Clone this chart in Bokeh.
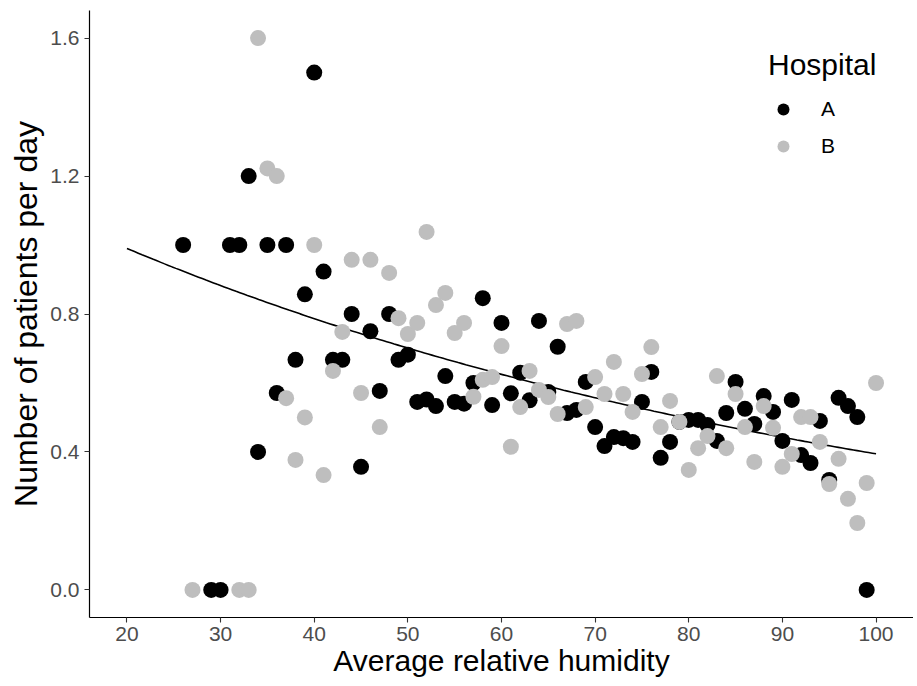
import numpy as np
from bokeh.plotting import figure
from bokeh.models import ColumnDataSource, FixedTicker, Legend, LegendItem
from bokeh.embed import file_html
from bokeh.resources import INLINE

# Hospital A
a_humidity = [26, 29, 30, 31, 32, 33, 34, 35, 36, 37, 38, 39, 40, 41, 42, 43, 44, 45, 46, 47,
              48, 49, 50, 51, 52, 53, 54, 55, 56, 57, 58, 59, 60, 61, 62, 63, 64, 65, 66, 67,
              68, 69, 70, 71, 72, 73, 74, 75, 76, 77, 78, 79, 80, 81, 82, 83, 84, 85, 86, 87,
              88, 89, 90, 91, 92, 93, 94, 95, 96, 97, 98, 99]
a_patients = [1.0, 0.0, 0.0, 1.0, 1.0, 1.2, 0.40, 1.0, 0.571, 1.0, 0.667, 0.857, 1.5, 0.923, 0.667, 0.667, 0.80, 0.357, 0.75, 0.577,
              0.80, 0.667, 0.682, 0.545, 0.552, 0.533, 0.62, 0.545, 0.54, 0.60, 0.846, 0.536, 0.774, 0.57, 0.63, 0.55, 0.78, 0.574, 0.705, 0.513,
              0.522, 0.603, 0.472, 0.417, 0.443, 0.44, 0.429, 0.545, 0.632, 0.383, 0.429, 0.487, 0.493, 0.493, 0.478, 0.432, 0.513, 0.603, 0.525, 0.481,
              0.562, 0.516, 0.432, 0.551, 0.391, 0.368, 0.490, 0.319, 0.557, 0.533, 0.501, 0.0]

# Hospital B
b_humidity = [27, 32, 33, 34, 35, 36, 37, 38, 39, 40, 41, 42, 43, 44, 45, 46, 47, 48, 49, 50,
              51, 52, 53, 54, 55, 56, 57, 58, 59, 60, 61, 62, 63, 64, 65, 66, 67, 68, 69, 70,
              71, 72, 73, 74, 75, 76, 77, 78, 79, 80, 81, 82, 83, 84, 85, 86, 87, 88, 89, 90,
              91, 92, 93, 94, 95, 96, 97, 98, 99, 100]
b_patients = [0.0, 0.0, 0.0, 1.6, 1.222, 1.2, 0.556, 0.377, 0.5, 1.0, 0.333, 0.635, 0.748, 0.957, 0.571, 0.957, 0.472, 0.919, 0.788, 0.742,
              0.774, 1.038, 0.826, 0.861, 0.745, 0.774, 0.56, 0.609, 0.617, 0.707, 0.415, 0.53, 0.635, 0.58, 0.559, 0.51, 0.771, 0.78, 0.53, 0.617,
              0.568, 0.661, 0.568, 0.516, 0.626, 0.704, 0.472, 0.548, 0.487, 0.348, 0.411, 0.446, 0.62, 0.411, 0.568, 0.472, 0.371, 0.533, 0.470, 0.357,
              0.394, 0.501, 0.501, 0.429, 0.307, 0.38, 0.264, 0.194, 0.31, 0.60]

# Fitted log-linear trend
fit_intercept = 0.22
fit_slope = -0.0115
fit_range = [20, 100]

x_ticks = [20, 30, 40, 50, 60, 70, 80, 90, 100]
y_ticks = [0.0, 0.4, 0.8, 1.2, 1.6]
y_tick_labels = ["0.0", "0.4", "0.8", "1.2", "1.6"]

FONT = "Liberation Sans"

p = figure(width=913, height=684, output_backend="svg", toolbar_location=None,
           x_range=(16, 104), y_range=(-0.08, 1.68),
           min_border_left=89, min_border_right=0, min_border_top=10, min_border_bottom=67)
p.outline_line_color = None
p.xgrid.grid_line_color = None
p.ygrid.grid_line_color = None
p.background_fill_color = "white"

fx = np.linspace(fit_range[0], fit_range[1], 200)
fy = np.exp(fit_intercept + fit_slope * fx)
p.line(fx, fy, line_color="black", line_width=1.6)

src_a = ColumnDataSource(dict(x=a_humidity, y=a_patients))
src_b = ColumnDataSource(dict(x=b_humidity, y=b_patients))
ra = p.scatter("x", "y", source=src_a, size=16, fill_color="black", line_color=None)
rb = p.scatter("x", "y", source=src_b, size=16, fill_color="#bebebe", line_color=None)

for ax in (p.xaxis, p.yaxis):
    ax.axis_line_color = "black"
    ax.axis_line_width = 1.2
    ax.major_tick_line_color = "#333333"
    ax.major_tick_line_width = 1.1
    ax.major_tick_in = 0
    ax.major_tick_out = 5
    ax.minor_tick_line_color = None
    ax.major_label_text_font = FONT
    ax.major_label_text_font_size = "21px"
    ax.major_label_text_color = "#4d4d4d"
    ax.axis_label_text_font = FONT
    ax.axis_label_text_font_style = "normal"
    ax.axis_label_text_color = "black"

p.xaxis.ticker = FixedTicker(ticks=x_ticks)
p.yaxis.ticker = FixedTicker(ticks=y_ticks)
p.yaxis.major_label_overrides = {t: l for t, l in zip(y_ticks, y_tick_labels)}
p.xaxis.axis_label = "Average relative humidity"
p.yaxis.axis_label = "Number of patients per day"
p.xaxis.axis_label_text_font_size = "30px"
p.yaxis.axis_label_text_font_size = "32px"
p.xaxis.major_label_standoff = 4
p.yaxis.major_label_standoff = 5
p.xaxis.axis_label_standoff = 0
p.yaxis.axis_label_standoff = 3

legend = Legend(items=[LegendItem(label="A", renderers=[ra]), LegendItem(label="B", renderers=[rb])],
                title="Hospital", location=(679, 456))
legend.title_text_font = FONT
legend.title_text_font_size = "30px"
legend.title_text_font_style = "normal"
legend.title_text_color = "black"
legend.title_standoff = 12
legend.label_text_font = FONT
legend.label_text_font_size = "21px"
legend.label_text_color = "black"
legend.glyph_width = 30
legend.glyph_height = 30
legend.label_standoff = 23
legend.spacing = 7
legend.padding = 0
legend.margin = 0
legend.border_line_color = None
legend.background_fill_alpha = 0
p.add_layout(legend)

open("out.html", "w").write(file_html(p, INLINE))
